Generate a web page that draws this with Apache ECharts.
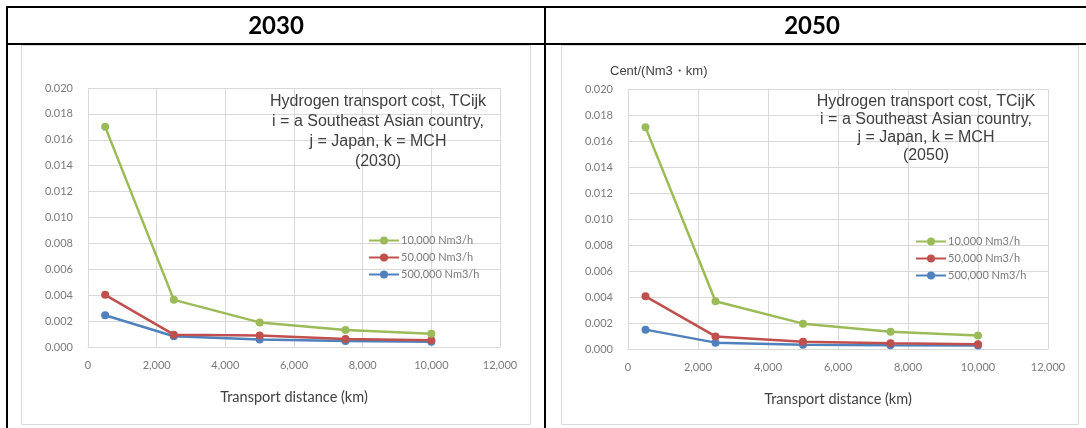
<!DOCTYPE html>
<html>
<head>
<meta charset="utf-8">
<script src="https://cdn.jsdelivr.net/npm/echarts@6/dist/echarts.min.js"></script>
<style>
html,body{margin:0;padding:0;background:#fff;}
#c{width:1086px;height:428px;}
</style>
</head>
<body>
<div id="c"></div>
<script>
// ---- data ----
const panelYears = ['2030', '2050'];
const distances = [500, 2500, 5000, 7500, 10000];
const seriesNames = ['10,000 Nm3/h', '50,000 Nm3/h', '500,000 Nm3/h'];
const green2030 = [0.0170, 0.00364, 0.00190, 0.00132, 0.00103];
const red2030   = [0.00403, 0.00095, 0.00088, 0.00062, 0.00052];
const blue2030  = [0.00245, 0.00083, 0.00057, 0.00046, 0.00041];
const green2050 = [0.01705, 0.00367, 0.00195, 0.00133, 0.00103];
const red2050   = [0.00405, 0.00097, 0.00056, 0.00044, 0.00036];
const blue2050  = [0.00149, 0.00049, 0.00033, 0.00028, 0.00026];
const titles = [
  'Hydrogen transport cost, TCijk\ni = a Southeast Asian country,\nj = Japan, k = MCH\n(2030)',
  'Hydrogen transport cost, TCijK\ni = a Southeast Asian country,\nj = Japan, k = MCH\n(2050)'
];
const xAxisTitle = 'Transport distance (km)';
const yAxisTitle2 = 'Cent/(Nm3\u30FBkm)';

const panels = [
  [green2030, red2030, blue2030],
  [green2050, red2050, blue2050]
];
const colors = ['#9bbb59', '#c0504d', '#4f81bd'];

const chart = echarts.init(document.getElementById('c'));
const grids = [
  {left: 88, top: 88, width: 412, height: 259},
  {left: 628, top: 89, width: 420, height: 260}
];
const labelColor = '#7a7a7a';
const gridLine = '#d9d9d9';
const tickFont = 'Lato, "Open Sans", sans-serif';

const xAxes = grids.map((g, i) => ({
  type: 'value', gridIndex: i, min: 0, max: 12000, interval: 2000,
  axisLine: {show: true, lineStyle: {color: gridLine}},
  axisTick: {show: false},
  splitLine: {show: true, lineStyle: {color: gridLine}},
  axisLabel: {color: labelColor, fontSize: 11, fontFamily: tickFont, margin: 13,
    formatter: v => v.toLocaleString('en-US')},
  name: xAxisTitle, nameLocation: 'middle', nameGap: 43,
  nameTextStyle: {color: '#404040', fontSize: 14.5, fontFamily: tickFont}
}));
const yAxes = grids.map((g, i) => ({
  type: 'value', gridIndex: i, min: 0, max: 0.02, interval: 0.002,
  axisLine: {show: false}, axisTick: {show: false},
  splitLine: {show: true, lineStyle: {color: gridLine}},
  axisLabel: {color: labelColor, fontSize: 11, fontFamily: tickFont, margin: 15,
    formatter: v => v.toFixed(3)},
  name: i === 1 ? yAxisTitle2 : '',
  nameLocation: 'end', nameGap: 11,
  nameTextStyle: {color: '#404040', fontSize: 13, fontFamily: 'Liberation Sans, Arial, sans-serif',
    align: 'left', padding: [0, 0, 0, -18]}
}));

const series = [];
panels.forEach((vals, p) => {
  vals.forEach((arr, s) => {
    series.push({
      type: 'line', name: seriesNames[s], xAxisIndex: p, yAxisIndex: p,
      data: distances.map((d, k) => [d, arr[k]]),
      symbol: 'circle', symbolSize: 8,
      lineStyle: {width: 2.5, color: colors[s]},
      itemStyle: {color: colors[s]},
      z: 3 - s + 2
    });
  });
});

const legendPos = [{left: 363, top: 229}, {left: 910, top: 230}];
const legends = legendPos.map(lp => ({
  left: lp.left, top: lp.top, orient: 'vertical', data: seriesNames,
  itemWidth: 30, itemHeight: 10, itemGap: 4,
  textStyle: {color: labelColor, fontSize: 11, fontFamily: tickFont, lineHeight: 13, padding: [0, 0, 0, -3]}
}));

const titleComps = [
  {text: titles[0], left: 373, top: 87, textAlign: 'center', lineHeight: 20},
  {text: titles[1], left: 921, top: 88, textAlign: 'center', lineHeight: 18}
].map(t => ({
  text: t.text, left: t.left, top: t.top, textAlign: t.textAlign,
  textStyle: {color: '#404040', fontSize: 16, fontWeight: 'normal',
    fontFamily: 'Liberation Sans, Arial, sans-serif', lineHeight: t.lineHeight, align: 'center'}
}));

const black = '#000';
const graphic = [
  // panel frames (light)
  {type: 'rect', shape: {x: 21.5, y: 45.5, width: 509, height: 379}, style: {fill: null, stroke: '#d9d9d9', lineWidth: 1}, z: 0},
  {type: 'rect', shape: {x: 561.5, y: 45.5, width: 517, height: 379}, style: {fill: null, stroke: '#d9d9d9', lineWidth: 1}, z: 0},
  // table lines
  {type: 'line', shape: {x1: 6, y1: 7, x2: 1086, y2: 7}, style: {stroke: black, lineWidth: 2}, z: 10},
  {type: 'line', shape: {x1: 6, y1: 44, x2: 1086, y2: 44}, style: {stroke: black, lineWidth: 2}, z: 10},
  {type: 'line', shape: {x1: 7, y1: 6, x2: 7, y2: 428}, style: {stroke: black, lineWidth: 2}, z: 10},
  {type: 'line', shape: {x1: 545, y1: 6, x2: 545, y2: 428}, style: {stroke: black, lineWidth: 2}, z: 10},
  // headers
  {type: 'text', x: 276, y: 26, style: {text: panelYears[0], fill: '#000', font: 'bold 24px Lato, "Open Sans", sans-serif', textAlign: 'center', textVerticalAlign: 'middle'}, z: 10},
  {type: 'text', x: 812, y: 26, style: {text: panelYears[1], fill: '#000', font: 'bold 24px Lato, "Open Sans", sans-serif', textAlign: 'center', textVerticalAlign: 'middle'}, z: 10}
];

chart.setOption({
  animation: false,
  backgroundColor: '#fff',
  title: titleComps,
  legend: legends,
  grid: grids,
  xAxis: xAxes,
  yAxis: yAxes,
  series: series,
  graphic: graphic
});
</script>
</body>
</html>
